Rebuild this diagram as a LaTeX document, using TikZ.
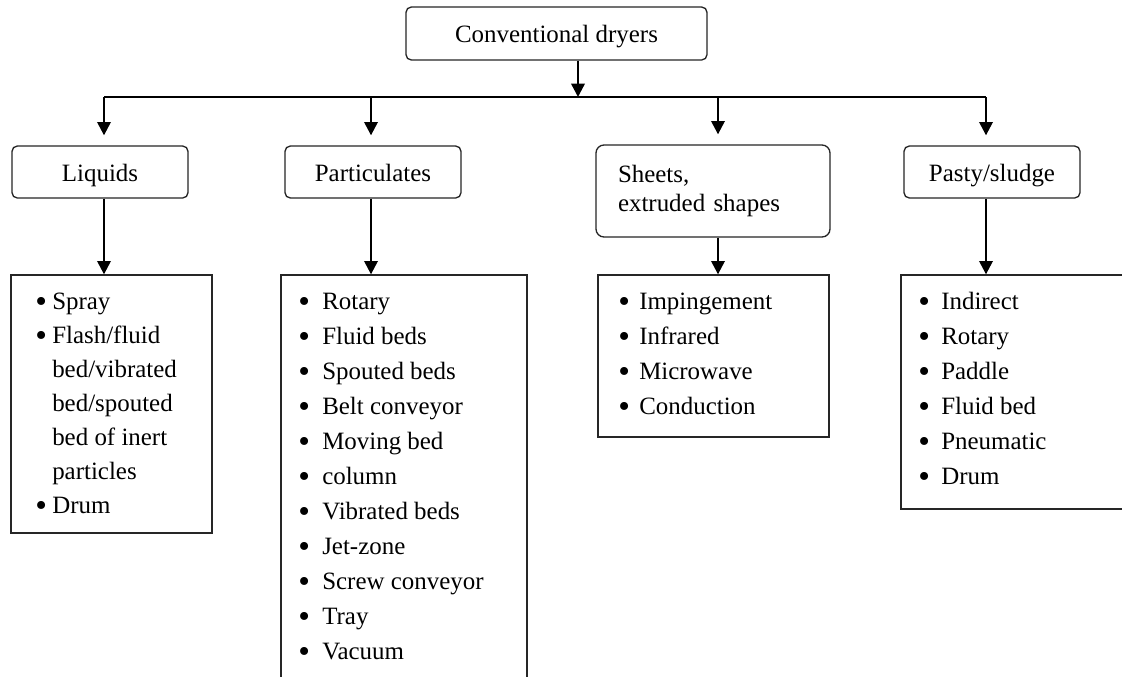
\documentclass[tikz,border=0pt]{standalone}
\usepackage{fontspec}
\setmainfont{Liberation Serif}
\usetikzlibrary{arrows.meta}
\newcommand\pxu[1]{#1*0.75pt}
\newlength\bwid
\newcommand\bl{\makebox[\bwid][l]{{\fontsize{25pt}{25pt}\selectfont\raisebox{-2.2pt}{\textbullet}}}}
\begin{document}
\begin{tikzpicture}[x=0.75pt,y=-0.75pt,
  catbox/.style={draw=black!85, line width=1pt, rounded corners=4pt,
    minimum height=\pxu{52}, inner sep=0pt,
    font=\fontsize{18.7pt}{22pt}\selectfont},
  onelabel/.style={text height=15pt, text depth=0.8pt},
  listbox/.style={draw=black!85, line width=1pt, inner sep=0pt},
  listtext/.style={anchor=north west, inner sep=0pt, align=left,
    font=\fontsize{18.7pt}{26.3pt}\selectfont},
  arr/.style={draw=black, line width=1.8pt, -{Triangle[width=10pt,length=10pt]}},
  bus/.style={draw=black, line width=1.4pt}]
\useasboundingbox (0,0) rectangle (1122,676);
\fill[white] (0,0) rectangle (1122,676);
\clip (0,0) rectangle (1122,676);

% category boxes
\node[catbox, onelabel, minimum width=\pxu{301}, minimum height=\pxu{53}] (top) at (556.5,33.5) {Conventional dryers};
\node[catbox, onelabel, minimum width=\pxu{176}] (liq) at (100,172) {Liquids};
\node[catbox, onelabel, minimum width=\pxu{176}] (par) at (373,172) {Particulates};
\node[catbox, rounded corners=6pt, minimum width=\pxu{234}, minimum height=\pxu{92},
  text width=\pxu{190}, align=left, font=\fontsize{18.7pt}{21.75pt}\selectfont] (she) at (713,191) {Sheets,\\extruded shapes};
\node[catbox, onelabel, minimum width=\pxu{176}] (pas) at (992,172) {Pasty/sludge};

% list boxes
\node[listbox, minimum width=\pxu{201}, minimum height=\pxu{258}] (lliq) at (111.5,404) {};
\node[listbox, minimum width=\pxu{246}, minimum height=\pxu{440}] (lpar) at (404,495) {};
\node[listbox, minimum width=\pxu{231}, minimum height=\pxu{162}] (lshe) at (713.5,356) {};
\node[listbox, minimum width=\pxu{260}, minimum height=\pxu{234}] (lpas) at (1031,392) {};

% list texts
\global\bwid=12.75pt\relax
\node[listtext, font=\fontsize{18.7pt}{25.5pt}\selectfont] (tliq) at (35,289) {%
\rule{0pt}{15pt}\bl Spray\\
\bl Flash/fluid\\
\hspace*{\bwid}bed/vibrated\\
\hspace*{\bwid}bed/spouted\\
\hspace*{\bwid}bed of inert\\
\hspace*{\bwid}particles\\
\bl Drum};
\global\bwid=18pt\relax
\node[listtext] (tpar) at (298,289) {%
\rule{0pt}{15pt}\bl Rotary\\
\bl Fluid beds\\
\bl Spouted beds\\
\bl Belt conveyor\\
\bl Moving bed\\
\bl column\\
\bl Vibrated beds\\
\bl Jet-zone\\
\bl Screw conveyor\\
\bl Tray\\
\bl Vacuum};
\global\bwid=15.75pt\relax
\node[listtext] (tshe) at (618,289) {%
\rule{0pt}{15pt}\bl Impingement\\
\bl Infrared\\
\bl Microwave\\
\bl Conduction};
\global\bwid=17.25pt\relax
\node[listtext] (tpas) at (918,289) {%
\rule{0pt}{15pt}\bl Indirect\\
\bl Rotary\\
\bl Paddle\\
\bl Fluid bed\\
\bl Pneumatic\\
\bl Drum};

% connectors
\coordinate (j0) at (578,97);
\coordinate (bL) at (104,97);
\coordinate (b2) at (371,97);
\coordinate (b3) at (718,97);
\coordinate (bR) at (986,97);
\draw[arr] (top.south -| j0) -- (j0);
\draw[bus] (bL) -- (bR);
\draw[arr, shorten >=7.5pt] (bL) -- (liq.north -| bL);
\draw[arr, shorten >=7.5pt] (b2) -- (par.north -| b2);
\draw[arr, shorten >=7.5pt] (b3) -- (she.north -| b3);
\draw[arr, shorten >=7.5pt] (bR) -- (pas.north -| bR);
\draw[arr] (liq.south -| bL) -- (lliq.north -| bL);
\draw[arr] (par.south -| b2) -- (lpar.north -| b2);
\draw[arr] (she.south -| b3) -- (lshe.north -| b3);
\draw[arr] (pas.south -| bR) -- (lpas.north -| bR);
\end{tikzpicture}
\end{document}
